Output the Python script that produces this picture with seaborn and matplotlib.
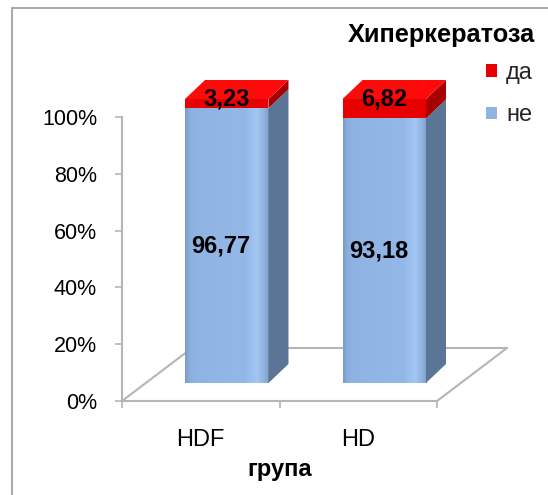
import matplotlib
matplotlib.use('Agg')
import matplotlib.pyplot as plt
import seaborn as sns
import pandas as pd
import numpy as np
from matplotlib.patches import Polygon, Rectangle, Patch
from matplotlib.lines import Line2D
from matplotlib.transforms import IdentityTransform, ScaledTranslation
from matplotlib.colors import LinearSegmentedColormap

groups = ['HDF', 'HD']
ne_values = [96.77, 93.18]
da_values = [3.23, 6.82]
ne_labels = ['96,77', '93,18']
da_labels = ['3,23', '6,82']
series = ['да', 'не']
yticks = [0, 20, 40, 60, 80, 100]
ytick_labels = ['0%', '20%', '40%', '60%', '80%', '100%']
title = 'Хиперкератоза'
xlabel = 'група'

sns.set_theme(style='white')
plt.rcParams['font.family'] = ['Liberation Sans', 'DejaVu Sans']

BLUE = '#8fb4e3'
BLUE_SIDE = '#5a7595'
RED = '#e80000'
RED_TOP = '#ff0a0a'
RED_SIDE = '#a80000'
GRAY = '#b5b5b5'

W, H = 548, 495
fig = plt.figure(figsize=(W / 100, H / 100), dpi=100)
fig.patch.set_facecolor('white')


def fr(x0, y_top, x1, y_bot):
    return [x0 / W, 1 - y_bot / H, (x1 - x0) / W, (y_bot - y_top) / H]


# outer border
fig.add_artist(Rectangle((12 / W, -0.1), 1.0, 1.1 - 8 / H, transform=fig.transFigure,
                         fill=False, edgecolor='#9a9a9a', lw=1.2))

# axis frame (ticks, floor)
axA = fig.add_axes(fr(122, 117, 437, 401))
axA.set_xlim(-0.5, 1.5)
axA.set_ylim(0, 100)
axA.set_yticks(yticks)
axA.set_yticklabels(ytick_labels, fontsize=15.5, color='black')
axA.set_xticks(range(len(groups)))
axA.set_xticklabels(groups, fontsize=17, color='black')
axA.set_xticks([-0.5, 0.5, 1.5], minor=True)
axA.tick_params(axis='x', which='major', length=0, pad=20, bottom=True)
axA.tick_params(axis='x', which='minor', length=5, width=1.2, color=GRAY, direction='out', bottom=True)
axA.tick_params(axis='y', length=5, width=1.2, color=GRAY, direction='out', pad=13, left=True)
for s in ['top', 'right']:
    axA.spines[s].set_visible(False)
for s in ['left', 'bottom']:
    axA.spines[s].set_color(GRAY)
    axA.spines[s].set_linewidth(1.5)
axA.set_xlabel(xlabel, fontsize=17, fontweight='bold', labelpad=5, color='black')
axA.patch.set_alpha(0)

# floor of 3D plot
DX, DY = 70, 53
pA0 = axA.transAxes.transform((0, 0))
pA1 = axA.transAxes.transform((1, 0))
d = np.array([DX, DY])
for a, b in [(pA0, pA0 + d), (pA0 + d, pA1 + d), (pA1, pA1 + d)]:
    axA.add_artist(Line2D([a[0], b[0]], [a[1], b[1]], transform=IdentityTransform(),
                          color=GRAY, lw=1.5, clip_on=False))

# bars
axB = fig.add_axes(fr(148, 99, 463, 383))
df = pd.DataFrame({'група': groups, 'не': ne_values, 'да': da_values})
df['total'] = df['не'] + df['да']
sns.barplot(data=df, x='група', y='total', color=RED, width=0.53, saturation=1,
            errorbar=None, ax=axB, linewidth=0)
sns.barplot(data=df, x='група', y='не', color=BLUE, width=0.53, saturation=1,
            errorbar=None, ax=axB, linewidth=0)
axB.set_xlim(-0.5, 1.5)
axB.set_ylim(0, 100)
axB.set_autoscale_on(False)
axB.axis('off')
axB.patch.set_visible(False)

shade = LinearSegmentedColormap.from_list('shade', [
    (0.0, '#7b9ac6'), (0.05, '#8aaedd'), (0.12, '#8fb3e2'), (0.72, '#93b8e7'),
    (0.86, '#a3c6f3'), (0.95, '#8fb1de'), (1.0, '#7f9dc7')])
grad = np.linspace(0, 1, 256)[None, :]

bd = np.array([20, 19])
n = len(groups)
bars = list(axB.patches)
for i in range(n):
    red_bar = bars[i]
    x0 = red_bar.get_x()
    x1 = x0 + red_bar.get_width()
    ne = df['не'][i]
    tot = df['total'][i]
    axB.imshow(grad, extent=(x0, x1, 0, ne), aspect='auto', cmap=shade,
               zorder=1.2, interpolation='bilinear')
    axB.set_xlim(-0.5, 1.5)
    axB.set_ylim(0, 100)
    for y0, y1, c in [(0, ne, BLUE_SIDE), (ne, tot, RED_SIDE)]:
        p0 = axB.transData.transform((x1, y0))
        p1 = axB.transData.transform((x1, y1))
        axB.add_artist(Polygon([p0, p0 + bd, p1 + bd, p1], closed=True,
                               transform=IdentityTransform(), facecolor=c, lw=0,
                               clip_on=False, zorder=1.5))
    q0 = axB.transData.transform((x0, tot))
    q1 = axB.transData.transform((x1, tot))
    axB.add_artist(Polygon([q0, q1, q1 + bd, q0 + bd], closed=True,
                           transform=IdentityTransform(), facecolor=RED_TOP, lw=0,
                           clip_on=False, zorder=1.5))
    axB.text(i, ne / 2, ne_labels[i], ha='center', va='center', fontsize=17,
             fontweight='bold', color='black', zorder=3,
             transform=axB.transData + ScaledTranslation(-0.06, 0, fig.dpi_scale_trans))
    axB.text(i, tot, da_labels[i], ha='center', va='center', fontsize=17,
             fontweight='bold', color='black', zorder=3)

axB.set_xlim(-0.5, 1.5)
axB.set_ylim(0, 100)

# title and legend
fig.text(535 / W, 1 - 35 / H, title, ha='right', va='center', fontsize=18.3,
         fontweight='bold', color='black')
handles = [Patch(facecolor=RED, edgecolor='none'), Patch(facecolor=BLUE, edgecolor='none')]
fig.legend(handles, series, loc='upper left', bbox_to_anchor=(486 / W, 1 - 62 / H),
           frameon=False, fontsize=17, handlelength=0.45, handleheight=0.45,
           handletextpad=0.4, labelspacing=0.86, borderpad=0, borderaxespad=0)

fig.savefig('out.png', dpi=100)
